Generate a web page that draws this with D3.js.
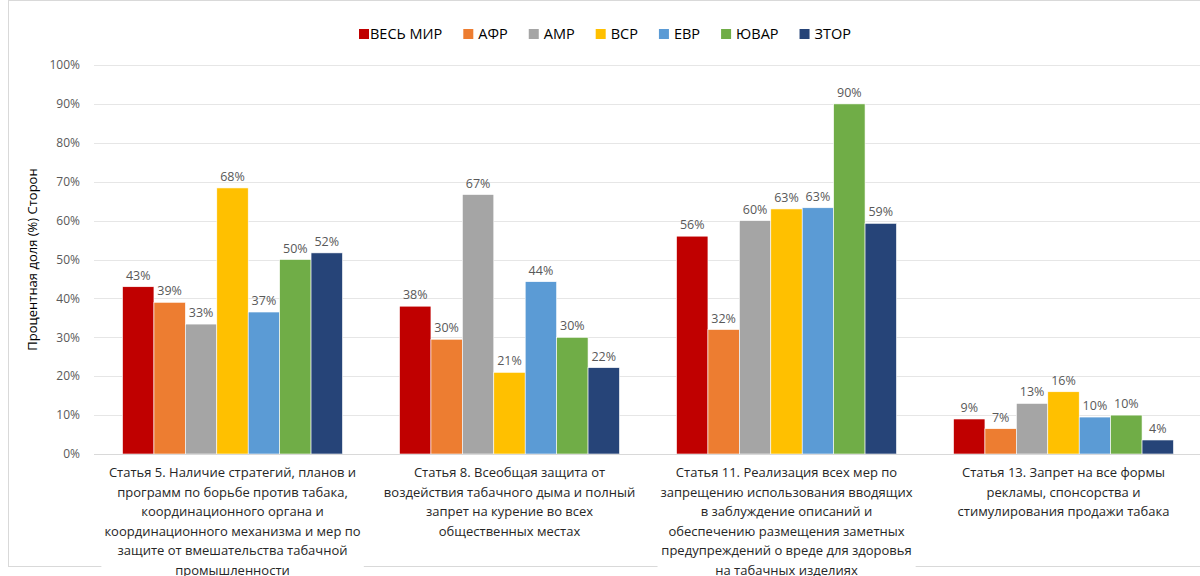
<!DOCTYPE html>
<html>
<head>
<meta charset="utf-8">
<script src="https://cdn.jsdelivr.net/npm/d3@7"></script>
<style>
  body { margin: 0; background: #fff; }
  svg { font-family: "Open Sans", "Noto Sans", sans-serif; }
</style>
</head>
<body>
<svg id="chart" width="1200" height="576"></svg>
<script>
// categories (pre-wrapped the way the picture wraps them)
const categories = [
  ['Статья 5. Наличие стратегий, планов и', 'программ по борьбе против табака,', 'координационного органа и', 'координационного механизма и мер по', 'защите от вмешательства табачной', 'промышленности'],
  ['Статья 8. Всеобщая защита от', 'воздействия табачного дыма и полный', 'запрет на курение во всех', 'общественных местах'],
  ['Статья 11. Реализация всех мер по', 'запрещению использования вводящих', 'в заблуждение описаний и', 'обеспечению размещения заметных', 'предупреждений о вреде для здоровья', 'на табачных изделиях'],
  ['Статья 13. Запрет на все формы', 'рекламы, спонсорства и', 'стимулирования продажи табака']
]
const seriesNames = ['ВЕСЬ МИР', 'АФР', 'АМР', 'ВСР', 'ЕВР', 'ЮВАР', 'ЗТОР']
const seriesColors = ['#C00000', '#ED7D31', '#A5A5A5', '#FFC000', '#5B9BD5', '#70AD47', '#264478']
// one array per series, one value per category
const vesMir = [43, 38, 56, 9]
const afr = [39, 29.5, 32, 6.5]
const amr = [33.4, 66.7, 60, 13]
const vsr = [68.4, 21, 63, 16]
const evr = [36.5, 44.3, 63.3, 9.5]
const yuvar = [50, 30, 90, 10]
const ztor = [51.7, 22.2, 59.3, 3.6]
const series = [vesMir, afr, amr, vsr, evr, yuvar, ztor]
const yTicks = [0, 10, 20, 30, 40, 50, 60, 70, 80, 90, 100]

const svg = d3.select('#chart')
const margin = {left: 94, right: 0, top: 65, bottom: 122}
const W = 1200, H = 576

// chart frame
svg.append('rect')
  .attr('x', 8.5).attr('y', 0.5)
  .attr('width', 1240).attr('height', 566)
  .attr('fill', 'none')
  .attr('stroke', '#d9d9d9')

const x0 = d3.scaleBand()
  .domain(d3.range(categories.length))
  .range([margin.left, 1202])
  .paddingInner(0.206)
  .paddingOuter(0.103)
const x1 = d3.scaleBand()
  .domain(d3.range(seriesNames.length))
  .range([0, x0.bandwidth()])
const y = d3.scaleLinear().domain([0, 100]).range([454, margin.top])

// grid
svg.append('g')
  .selectAll('line')
  .data(yTicks)
  .enter()
  .append('line')
  .attr('x1', margin.left).attr('x2', W)
  .attr('y1', d => Math.round(y(d)) + 0.5)
  .attr('y2', d => Math.round(y(d)) + 0.5)
  .attr('stroke', '#e6e6e6')
  .attr('stroke-width', 1)

// y tick labels
svg.append('g')
  .selectAll('text')
  .data(yTicks)
  .enter()
  .append('text')
  .attr('x', 80)
  .attr('y', d => y(d))
  .attr('dy', '0.35em')
  .attr('text-anchor', 'end')
  .attr('font-size', 12)
  .attr('fill', '#595959')
  .text(d => d + '%')

// y title
svg.append('text')
  .attr('transform', 'translate(37,' + y(50) + ') rotate(-90)')
  .attr('text-anchor', 'middle')
  .attr('font-size', 13)
  .attr('fill', '#000')
  .text('Процентная доля (%) Сторон')

// bars
const groups = svg.append('g')
  .selectAll('g')
  .data(categories.map((c, i) => i))
  .enter()
  .append('g')
  .attr('transform', i => 'translate(' + x0(i) + ',0)')

groups.selectAll('rect')
  .data(i => series.map((s, k) => ({k: k, v: s[i]})))
  .enter()
  .append('rect')
  .attr('x', d => x1(d.k))
  .attr('y', d => y(d.v))
  .attr('width', x1.bandwidth())
  .attr('height', d => y(0) - y(d.v))
  .attr('fill', d => seriesColors[d.k])
  .attr('stroke', '#fff')
  .attr('stroke-width', 0.6)

groups.selectAll('text.val')
  .data(i => series.map((s, k) => ({k: k, v: s[i]})))
  .enter()
  .append('text')
  .attr('class', 'val')
  .attr('x', d => x1(d.k) + x1.bandwidth() / 2)
  .attr('y', d => y(d.v) - 7)
  .attr('text-anchor', 'middle')
  .attr('font-size', 12.5)
  .attr('fill', '#595959')
  .text(d => Math.round(d.v) + '%')

// baseline
svg.append('line')
  .attr('x1', margin.left).attr('x2', W)
  .attr('y1', y(0) + 0.5).attr('y2', y(0) + 0.5)
  .attr('stroke', '#d9d9d9')

// category labels with white backing (they overflow the frame)
const lineH = 19.6
const labels = svg.append('g')
  .selectAll('g')
  .data(categories)
  .enter()
  .append('g')
  .attr('transform', (c, i) => 'translate(' + (x0(i) + x0.bandwidth() / 2) + ',0)')

labels.each(function (lines) {
  const g = d3.select(this)
  const t = g.append('text')
    .attr('text-anchor', 'middle')
    .attr('font-size', 13)
    .attr('fill', '#262626')
  lines.forEach((l, j) => {
    t.append('tspan').attr('x', 0).attr('y', 477 + j * lineH).text(l)
  })
  const bb = t.node().getBBox()
  g.insert('rect', 'text')
    .attr('x', bb.x - 3).attr('y', bb.y - 2)
    .attr('width', bb.width + 6).attr('height', bb.height + 4)
    .attr('fill', '#fff')
})

// legend
const legend = svg.append('g')
const gap = 21
let lx = 0
seriesNames.forEach((name, k) => {
  const item = legend.append('g').attr('transform', 'translate(' + lx + ',0)')
  item.append('rect')
    .attr('x', 0).attr('y', -5)
    .attr('width', 10).attr('height', 10)
    .attr('fill', seriesColors[k])
  const off = k === 0 ? 11 : 15
  const t = item.append('text')
    .attr('x', off)
    .attr('dy', '0.35em')
    .attr('font-size', 14.5)
    .attr('fill', '#000')
    .text(name)
  lx += off + t.node().getComputedTextLength() + gap
})
const lw = lx - gap
legend.attr('transform', 'translate(' + (605 - lw / 2) + ',34)')
</script>
</body>
</html>
